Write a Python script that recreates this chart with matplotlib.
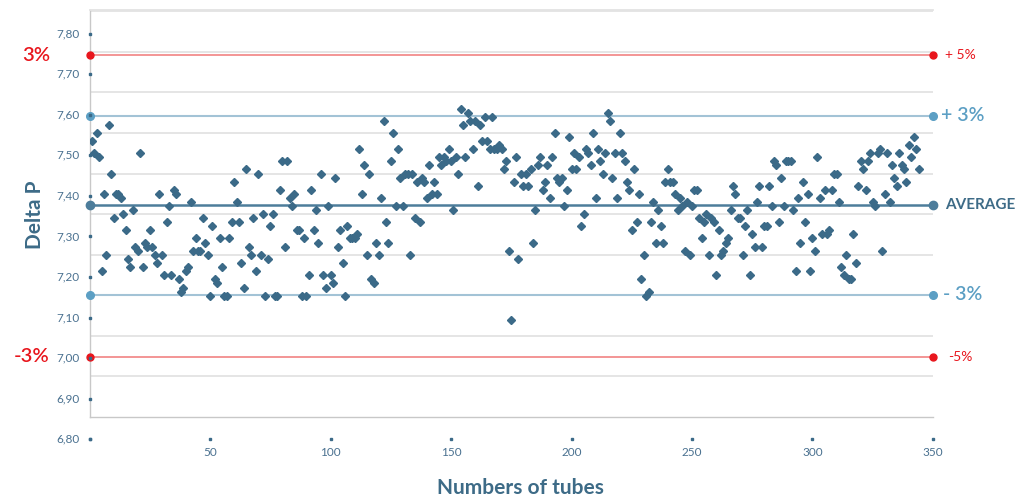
import matplotlib
matplotlib.use("Agg")
import matplotlib.pyplot as plt
import matplotlib.transforms as mtransforms

# ---------------- data ----------------
delta_p = [
    7.535, 7.505, 7.556, 7.495, 7.215, 7.405, 7.254, 7.575, 7.454, 7.345,
    7.405, 7.405, 7.395, 7.355, 7.315, 7.245, 7.224, 7.365, 7.275, 7.265,
    7.505, 7.224, 7.285, 7.275, 7.315, 7.275, 7.254, 7.235, 7.405, 7.254,
    7.204, 7.335, 7.375, 7.204, 7.415, 7.405, 7.194, 7.164, 7.174, 7.215,
    7.225, 7.385, 7.265, 7.295, 7.265, 7.265, 7.345, 7.285, 7.254, 7.154,
    7.325, 7.194, 7.184, 7.295, 7.225, 7.154, 7.154, 7.295, 7.335, 7.435,
    7.385, 7.335, 7.235, 7.174, 7.465, 7.275, 7.254, 7.345, 7.215, 7.454,
    7.254, 7.355, 7.154, 7.245, 7.325, 7.355, 7.154, 7.154, 7.415, 7.485,
    7.275, 7.485, 7.395, 7.375, 7.405, 7.315, 7.315, 7.154, 7.295, 7.154,
    7.204, 7.415, 7.315, 7.365, 7.285, 7.454, 7.204, 7.174, 7.375, 7.204,
    7.184, 7.444, 7.275, 7.315, 7.235, 7.154, 7.325, 7.295, 7.295, 7.295,
    7.305, 7.515, 7.405, 7.475, 7.254, 7.454, 7.194, 7.184, 7.285, 7.254,
    7.395, 7.585, 7.335, 7.285, 7.485, 7.556, 7.375, 7.515, 7.444, 7.375,
    7.454, 7.454, 7.254, 7.454, 7.345, 7.435, 7.335, 7.444, 7.435, 7.395,
    7.475, 7.405, 7.435, 7.405, 7.495, 7.475, 7.495, 7.485, 7.515, 7.485,
    7.365, 7.495, 7.454, 7.615, 7.575, 7.495, 7.605, 7.585, 7.515, 7.585,
    7.425, 7.575, 7.535, 7.595, 7.535, 7.515, 7.595, 7.515, 7.515, 7.525,
    7.515, 7.465, 7.485, 7.265, 7.094, 7.435, 7.495, 7.245, 7.454, 7.425,
    7.454, 7.425, 7.465, 7.285, 7.365, 7.475, 7.495, 7.415, 7.435, 7.475,
    7.395, 7.495, 7.556, 7.444, 7.435, 7.444, 7.375, 7.415, 7.545, 7.465,
    7.505, 7.465, 7.495, 7.325, 7.355, 7.515, 7.505, 7.475, 7.556, 7.395,
    7.515, 7.485, 7.454, 7.505, 7.605, 7.585, 7.444, 7.505, 7.395, 7.556,
    7.505, 7.485, 7.435, 7.415, 7.315, 7.465, 7.335, 7.405, 7.194, 7.254,
    7.154, 7.164, 7.335, 7.385, 7.285, 7.365, 7.325, 7.285, 7.435, 7.465,
    7.435, 7.435, 7.405, 7.365, 7.395, 7.375, 7.265, 7.385, 7.254, 7.375,
    7.415, 7.415, 7.345, 7.295, 7.335, 7.355, 7.254, 7.345, 7.335, 7.204,
    7.315, 7.254, 7.265, 7.285, 7.295, 7.365, 7.425, 7.405, 7.345, 7.345,
    7.254, 7.325, 7.365, 7.204, 7.305, 7.275, 7.385, 7.425, 7.275, 7.325,
    7.325, 7.425, 7.375, 7.485, 7.475, 7.335, 7.444, 7.375, 7.485, 7.485,
    7.485, 7.365, 7.215, 7.395, 7.285, 7.435, 7.335, 7.405, 7.215, 7.295,
    7.265, 7.495, 7.395, 7.305, 7.415, 7.305, 7.315, 7.415, 7.454, 7.454,
    7.385, 7.225, 7.204, 7.254, 7.194, 7.194, 7.305, 7.235, 7.425, 7.485,
    7.465, 7.415, 7.485, 7.505, 7.385, 7.375, 7.505, 7.515, 7.265, 7.405,
    7.505, 7.385, 7.475, 7.444, 7.425, 7.505, 7.475, 7.465, 7.435, 7.525,
    7.495, 7.545, 7.515, 7.465,
]
tubes = list(range(1, len(delta_p) + 1))

average = 7.377
plus3 = 7.598
minus3 = 7.156
plus5 = 7.746
minus5 = 7.003

y_tick_values = [6.80, 6.90, 7.00, 7.10, 7.20, 7.30, 7.40, 7.50, 7.60, 7.70, 7.80]
y_tick_labels = ["6,80", "6,90", "7,00", "7,10", "7,20", "7,30", "7,40", "7,50", "7,60", "7,70", "7,80"]
x_tick_values = [0, 50, 100, 150, 200, 250, 300, 350]
x_tick_labels = ["", "50", "100", "150", "200", "250", "300", "350"]
grid_values = [6.955, 7.055, 7.155, 7.255, 7.355, 7.455, 7.555, 7.655, 7.755, 7.855]

# ---------------- style ----------------
FONT = ["Lato", "DejaVu Sans"]
plt.rcParams["font.family"] = FONT

c_point = "#3b6a88"
c_avg = "#4d7d9b"
c_blue_line = "#a3c3d6"
c_blue_mark = "#5c9fc4"
c_red_line = "#f07878"
c_red_mark = "#e8161d"
c_text = "#4a7190"
c_grid = "#e3e3e3"

fig = plt.figure(figsize=(10.16, 4.99), dpi=100)
ax = fig.add_axes([89.5 / 1016, 82 / 499, 843.5 / 1016, 407 / 499])
ax.set_xlim(0, 350)
ax.set_ylim(6.855, 7.858)

for g in grid_values:
    ax.axhline(g, color=c_grid, lw=1.3, zorder=1)

ax.spines["right"].set_visible(False)
ax.spines["top"].set_color(c_grid)
ax.spines["top"].set_linewidth(1.3)
ax.spines["left"].set_color("#c8c8c8")
ax.spines["bottom"].set_color("#c8c8c8")
ax.spines["left"].set_linewidth(1.0)
ax.spines["bottom"].set_linewidth(1.0)
ax.set_xticks([])
ax.set_yticks([])

# reference lines
ax.plot([0, 350], [plus5, plus5], color=c_red_line, lw=1.1, zorder=2)
ax.plot([0, 350], [minus5, minus5], color=c_red_line, lw=1.1, zorder=2)
ax.plot([0, 350], [plus5, plus5], ls="none", marker="o", ms=5, color=c_red_mark, clip_on=False, zorder=5)
ax.plot([0, 350], [minus5, minus5], ls="none", marker="o", ms=5, color=c_red_mark, clip_on=False, zorder=5)
ax.plot([0, 350], [plus3, plus3], color=c_blue_line, lw=1.5, zorder=2)
ax.plot([0, 350], [minus3, minus3], color=c_blue_line, lw=1.5, zorder=2)
ax.plot([0, 350], [plus3, plus3], ls="none", marker="o", ms=5.5, color=c_blue_mark, clip_on=False, zorder=5)
ax.plot([0, 350], [minus3, minus3], ls="none", marker="o", ms=5.5, color=c_blue_mark, clip_on=False, zorder=5)
ax.plot([0, 350], [average, average], color=c_avg, lw=1.8, zorder=2)
ax.plot([0, 350], [average, average], ls="none", marker="o", ms=6, color=c_avg, clip_on=False, zorder=5)

# data points
ax.plot(tubes, delta_p, ls="none", marker="D", ms=4.3, color=c_point, zorder=4)

# y tick dots and labels
ax.plot([0] * len(y_tick_values), y_tick_values, ls="none", marker="s", ms=1.8,
        color=c_point, clip_on=False, zorder=6)
trans_y = mtransforms.blended_transform_factory(ax.transAxes, ax.transData)
for v, lab in zip(y_tick_values, y_tick_labels):
    ax.text(-0.0115, v, lab, transform=trans_y, ha="right", va="center",
            fontsize=8.5, color=c_text, clip_on=False)

# x tick dots and labels
ax.plot(x_tick_values, [6.80] * len(x_tick_values), ls="none", marker="s", ms=2,
        color=c_point, clip_on=False, zorder=6)
for v, lab in zip(x_tick_values, x_tick_labels):
    ax.text(v, 6.768, lab, ha="center", va="center", fontsize=8.5,
            color=c_text, clip_on=False)

# axis titles
fig.text(520 / 1016, 1 - 488 / 499, "Numbers of tubes", ha="center", va="center",
         fontsize=15, fontweight="bold", color="#3d6b87")
fig.text(35 / 1016, 1 - 215 / 499, "Delta P", ha="center", va="center", rotation=90,
         fontsize=15, fontweight="bold", color="#3d6b87")

# left percent labels
ax.text(-0.047, plus5, "3%", transform=trans_y, ha="right", va="center",
        fontsize=14.5, fontweight="semibold", color=c_red_mark, clip_on=False)
ax.text(-0.047, minus5, "-3%", transform=trans_y, ha="right", va="center",
        fontsize=14.5, fontweight="semibold", color=c_red_mark, clip_on=False)

# right labels
ax.text(1.0142, plus5, "+ 5%", transform=trans_y, ha="left", va="center",
        fontsize=10, color=c_red_mark, clip_on=False)
ax.text(1.0095, plus3, "+ 3%", transform=trans_y, ha="left", va="center",
        fontsize=14, fontweight="semibold", color=c_blue_mark, clip_on=False)
ax.text(1.0142, average, "AVERAGE", transform=trans_y, ha="left", va="center",
        fontsize=11, fontweight="bold", color="#3d6b87", clip_on=False)
ax.text(1.0118, minus3, "- 3%", transform=trans_y, ha="left", va="center",
        fontsize=14, fontweight="semibold", color=c_blue_mark, clip_on=False)
ax.text(1.0177, minus5, "-5%", transform=trans_y, ha="left", va="center",
        fontsize=10, color=c_red_mark, clip_on=False)

fig.savefig("out.png", dpi=100)
